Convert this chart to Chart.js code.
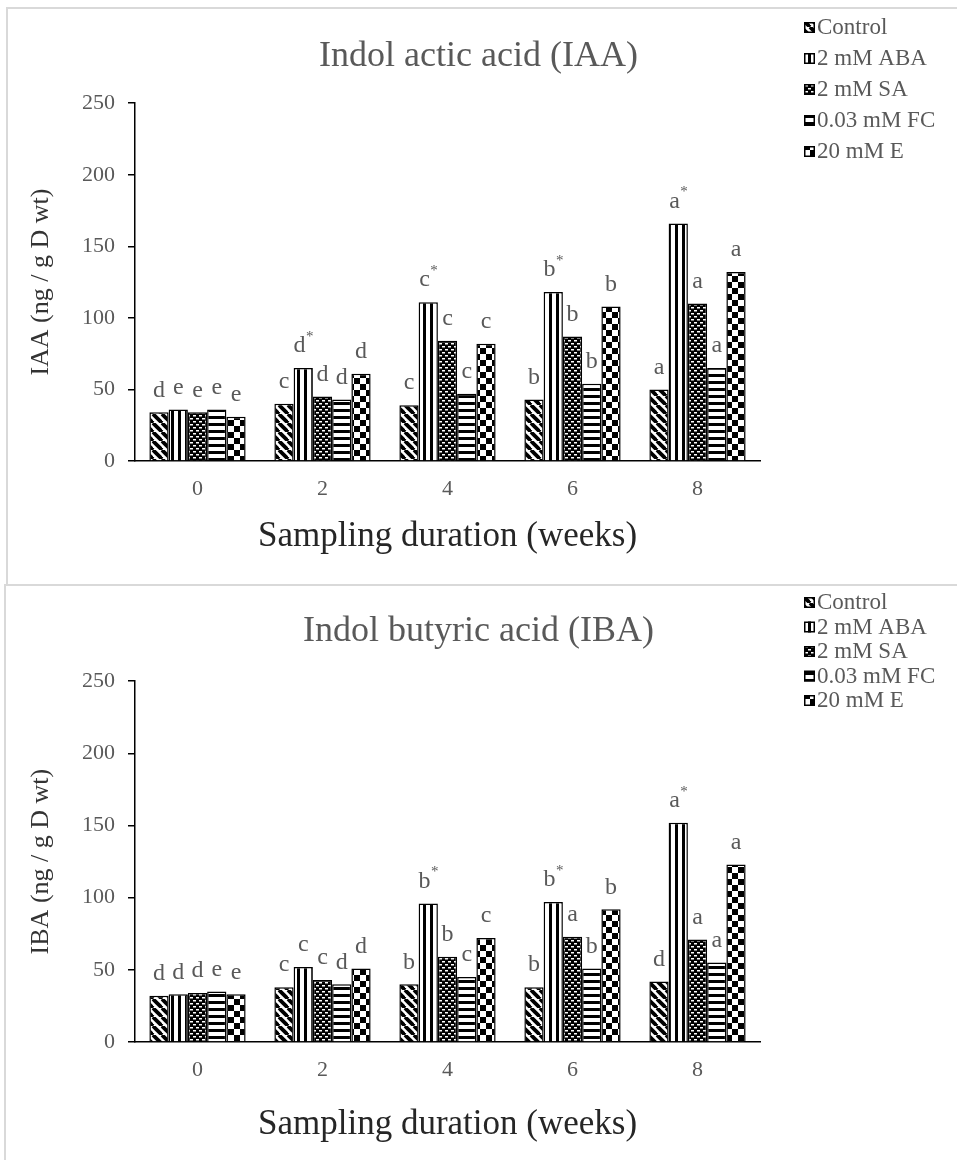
<!DOCTYPE html>
<html>
<head>
<meta charset="utf-8">
<script src="https://cdn.jsdelivr.net/npm/chart.js@4"></script>
<style>
  html, body { margin: 0; padding: 0; background: #fff; }
  body { position: relative; width: 957px; height: 1160px; overflow: hidden; }
  canvas { position: absolute; left: 0; }
  .line { position: absolute; background: #d9d9d9; }
</style>
</head>
<body>
<canvas id="iaaChart" width="957" height="585" style="top:0"></canvas>
<canvas id="ibaChart" width="957" height="575" style="top:585px"></canvas>
<div class="line" style="left:6px;top:7px;width:951px;height:2px"></div>
<div class="line" style="left:6px;top:7px;width:2px;height:578px"></div>
<div class="line" style="left:4px;top:584px;width:953px;height:2px"></div>
<div class="line" style="left:4px;top:585px;width:2px;height:575px"></div>
<script>
const weeks = ["0", "2", "4", "6", "8"];
const treatments = ["Control", "2 mM ABA", "2 mM SA", "0.03 mM FC", "20 mM E"];

// IAA (ng / g D wt)
const iaaControl = [34, 40, 39, 43, 50];
const iaaABA = [36, 65, 111, 118, 166];
const iaaSA = [34, 45, 84, 87, 110];
const iaaFC = [36, 43, 47, 54, 65];
const iaaE = [31, 61, 82, 108, 132];
const iaaLetters = [
  ["d", "c", "c", "b", "a"],
  ["e", "d*", "c*", "b*", "a*"],
  ["e", "d", "c", "b", "a"],
  ["e", "d", "c", "b", "a"],
  ["e", "d", "c", "b", "a"],
];

// IBA (ng / g D wt)
const ibaControl = [32, 38, 40, 38, 42];
const ibaABA = [33, 52, 96, 97, 152];
const ibaSA = [34, 43, 59, 73, 71];
const ibaFC = [35, 40, 45, 51, 55];
const ibaE = [33, 51, 72, 92, 123];
const ibaLetters = [
  ["d", "c", "b", "b", "d"],
  ["d", "c", "b*", "b*", "a*"],
  ["d", "c", "b", "a", "a"],
  ["e", "d", "c", "b", "a"],
  ["e", "d", "c", "b", "a"],
];

const yTicks = [0, 50, 100, 150, 200, 250];

const serif = "'Liberation Serif', 'Times New Roman', serif";
const grey = "#595959";

// hatch fills for the bars
function tile(w, h, draw) {
  const c = document.createElement("canvas");
  c.width = w;
  c.height = h;
  const t = c.getContext("2d");
  t.fillStyle = "#fff";
  t.fillRect(0, 0, w, h);
  t.fillStyle = "#000";
  t.strokeStyle = "#000";
  draw(t);
  return c;
}

function makeFills(ctx) {
  const diag = tile(9, 9, (t) => {
    t.lineWidth = 3.8;
    for (let x0 = -9; x0 <= 9; x0 += 9) {
      t.beginPath();
      t.moveTo(x0, 0);
      t.lineTo(x0 + 9, 9);
      t.stroke();
    }
  });
  const vert = tile(7, 1, (t) => t.fillRect(3, 0, 3, 1));
  const brick = tile(6, 6, (t) => {
    t.fillRect(0, 0, 6, 6);
    t.fillStyle = "#fff";
    t.fillRect(1, 1, 3, 1.5);
    t.fillRect(4, 4, 3, 1.5);
    t.fillRect(-2, 4, 3, 1.5);
  });
  const horiz = tile(1, 7, (t) => t.fillRect(0, 3, 1, 3));
  const checker = tile(12, 12, (t) => {
    t.fillRect(0, 0, 6, 6);
    t.fillRect(6, 6, 6, 6);
  });
  return [diag, vert, brick, horiz, checker].map((c) => ctx.createPattern(c, "repeat"));
}

const barLetters = {
  id: "barLetters",
  afterDatasetsDraw(chart, args, opts) {
    const ctx = chart.ctx;
    ctx.save();
    ctx.fillStyle = grey;
    ctx.textBaseline = "middle";
    ctx.textAlign = "left";
    chart.data.datasets.forEach((ds, i) => {
      const meta = chart.getDatasetMeta(i);
      meta.data.forEach((bar, j) => {
        const txt = opts.letters[i][j];
        const star = txt.endsWith("*");
        const base = star ? txt.slice(0, -1) : txt;
        ctx.font = "24px " + serif;
        const w = ctx.measureText(base).width;
        ctx.font = "15px " + serif;
        const sw = star ? ctx.measureText("*").width : 0;
        const left = bar.x - (w + sw) / 2;
        const y = bar.y - 22;
        ctx.font = "24px " + serif;
        ctx.fillText(base, left, y);
        if (star) {
          ctx.font = "15px " + serif;
          ctx.fillText("*", left + w + 0.5, y - 9);
        }
      });
    });
    ctx.restore();
  },
};

const sideLegend = {
  id: "sideLegend",
  afterDraw(chart, args, opts) {
    const ctx = chart.ctx;
    ctx.save();
    ctx.font = "23px " + serif;
    ctx.textBaseline = "middle";
    ctx.textAlign = "left";
    chart.data.datasets.forEach((ds, i) => {
      const y = opts.top + i * opts.step;
      ctx.fillStyle = ds.backgroundColor;
      ctx.fillRect(opts.left, y - 5, 11, 11);
      ctx.strokeStyle = "#000";
      ctx.lineWidth = 1.5;
      ctx.strokeRect(opts.left + 0.75, y - 4.25, 9.5, 9.5);
      ctx.fillStyle = grey;
      ctx.fillText(ds.label, opts.left + 13, y + 1);
    });
    ctx.restore();
  },
};

function buildChart(id, s) {
  const canvas = document.getElementById(id);
  const ctx = canvas.getContext("2d");
  const fills = makeFills(ctx);
  return new Chart(ctx, {
    type: "bar",
    data: {
      labels: weeks,
      datasets: s.values.map((v, i) => ({
        label: treatments[i],
        data: v,
        backgroundColor: fills[i],
        borderColor: "#000",
        borderWidth: 1.5,
        categoryPercentage: 0.77,
        barPercentage: 1.0,
      })),
    },
    options: {
      responsive: false,
      animation: false,
      devicePixelRatio: 1,
      layout: { padding: 0 },
      plugins: {
        legend: { display: false },
        tooltip: { enabled: false },
        title: {
          display: true,
          text: s.title,
          color: grey,
          font: { family: serif, size: 36, weight: "normal" },
          padding: s.titlePad,
        },
        barLetters: { letters: s.letters },
        sideLegend: s.legend,
      },
      scales: {
        x: {
          grid: { display: true, drawOnChartArea: false, drawTicks: false },
          border: { display: true, color: "#000", width: 1.5 },
          ticks: { color: grey, padding: 15, font: { family: serif, size: 22 } },
          title: {
            display: true,
            text: "Sampling duration (weeks)",
            color: "#262626",
            font: { family: serif, size: 35 },
            padding: { top: 0, bottom: s.xTitleBottom },
          },
          afterFit: (scale) => { scale.height = s.xHeight; },
        },
        y: {
          min: 0,
          max: 250,
          afterBuildTicks: (scale) => { scale.ticks = yTicks.map((v) => ({ value: v })); },
          grid: { drawOnChartArea: false, drawTicks: true, tickLength: 7, color: "#000", lineWidth: 1.5 },
          border: { display: true, color: "#000", width: 1.5 },
          ticks: { color: grey, padding: 13, font: { family: serif, size: 22 } },
          title: {
            display: true,
            text: s.yTitle,
            color: "#333",
            font: { family: serif, size: 26 },
            padding: { top: 26, bottom: 0 },
          },
          afterFit: (scale) => { scale.width = 135; },
        },
        // empty right-hand strip that holds the legend
        side: {
          axis: "y",
          type: "linear",
          position: "right",
          display: true,
          grid: { display: false, drawTicks: false },
          border: { display: false },
          ticks: { display: false },
          afterFit: (scale) => { scale.width = 197; },
        },
      },
    },
    plugins: [barLetters, sideLegend],
  });
}

document.addEventListener("DOMContentLoaded", function () {
  buildChart("iaaChart", {
    values: [iaaControl, iaaABA, iaaSA, iaaFC, iaaE],
    letters: iaaLetters,
    title: "Indol actic acid (IAA)",
    yTitle: "IAA (ng / g D wt)",
    titlePad: { top: 35, bottom: 25 },
    xHeight: 124,
    xTitleBottom: 27,
    legend: { left: 804, top: 27, step: 31 },
  });
  buildChart("ibaChart", {
    values: [ibaControl, ibaABA, ibaSA, ibaFC, ibaE],
    letters: ibaLetters,
    title: "Indol butyric acid (IBA)",
    yTitle: "IBA (ng / g D wt)",
    titlePad: { top: 25, bottom: 28 },
    xHeight: 118,
    xTitleBottom: 14,
    legend: { left: 804, top: 17, step: 24.5 },
  });
});
</script>
</body>
</html>
